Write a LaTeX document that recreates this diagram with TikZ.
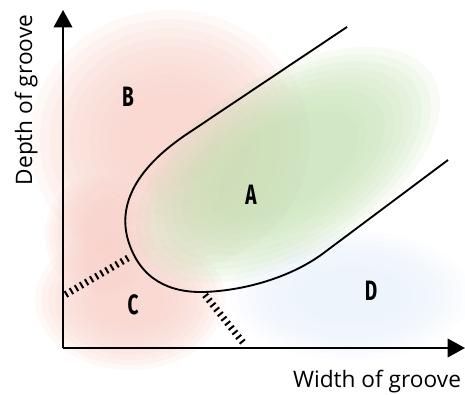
\documentclass[tikz,border=0pt]{standalone}
\usepackage{fontspec}
\setmainfont{Open Sans}
\newfontfamily\zonefont{Fira Sans}
\usetikzlibrary{arrows.meta}

\definecolor{pinkbg}{RGB}{247,207,199}
\definecolor{greenbg}{RGB}{199,226,181}
\definecolor{bluebg}{RGB}{232,241,251}

\newcommand{\zonetext}[1]{\scalebox{0.68}[1]{#1}}

\tikzset{
  axis/.style={line width=1.1pt, -{Triangle[length=13pt, width=14pt]}},
  boundary/.style={line width=1.4pt},
  hatch/.style={line width=5.2pt, dash pattern=on 1.5pt off 2.9pt},
  zone/.style={font=\zonefont\bfseries\fontsize{21}{21}\selectfont},
  axislabel/.style={font=\fontsize{17}{18}\selectfont, anchor=base},
  blob/.style={fill opacity=0.15}
}

\begin{document}
\begin{tikzpicture}[x=0.75pt, y=-0.75pt]
    \useasboundingbox (0,0) rectangle (465,395);

    % blurred zones, built from stacked ellipses
    \foreach \k in {0,...,9} {
        \fill[pinkbg, blob] (170,140) ellipse ({140*(1-0.07*\k)} and {130*(1-0.07*\k)});
        \fill[pinkbg, blob] (130,300) ellipse ({95*(1-0.07*\k)} and {70*(1-0.07*\k)});
        \fill[pinkbg, blob] (100,235) ellipse ({55*(1-0.08*\k)} and {60*(1-0.08*\k)});
    }
    \foreach \k in {0,...,9}
        \fill[bluebg, blob] (350,295) ellipse ({120*(1-0.07*\k)} and {65*(1-0.07*\k)});
    \foreach \k in {0,...,9}
        \fill[greenbg, blob, rotate around={32:(288,165)}] (288,165) ellipse ({170*(1-0.06*\k)} and {90*(1-0.06*\k)});

    % axes
    \coordinate (O) at (63,348);
    \coordinate (Ytop) at (63,10);
    \coordinate (Xend) at (465,348);
    \draw[axis] (O) -- (Ytop);
    \draw[axis] (O) -- (Xend);

    % points of the boundary
    \coordinate (P1) at (347,27);
    \coordinate (P2) at (190,132);
    \coordinate (P3) at (128,240);
    \coordinate (P4) at (205,292);
    \coordinate (P5) at (325,252);
    \coordinate (P6) at (448,160);

    \draw[boundary] (P1) -- (P2)
        .. controls (135,168) and (118,205) .. (P3)
        .. controls (140,280) and (170,293) .. (P4)
        .. controls (250,290) and (295,275) .. (P5) -- (P6);

    % hatched borders
    \coordinate (H1) at (128,258);
    \coordinate (H2) at (63,296);
    \coordinate (H3) at (205,295);
    \coordinate (H4) at (245,345);
    \draw[hatch] (H1) -- (H2);
    \draw[hatch] (H3) -- (H4);

    % zone letters
    \node[zone] (A) at (251,195) {\zonetext{A}};
    \node[zone] (B) at (128,97) {\zonetext{B}};
    \node[zone] (C) at (133,305) {\zonetext{C}};
    \node[zone] (D) at (371,291) {\zonetext{D}};

    % axis names
    \node[axislabel, rotate=90] (ylab) at (32,100) {Depth of groove};
    \node[axislabel] (xlab) at (377,388) {Width of groove};

\end{tikzpicture}
\end{document}
